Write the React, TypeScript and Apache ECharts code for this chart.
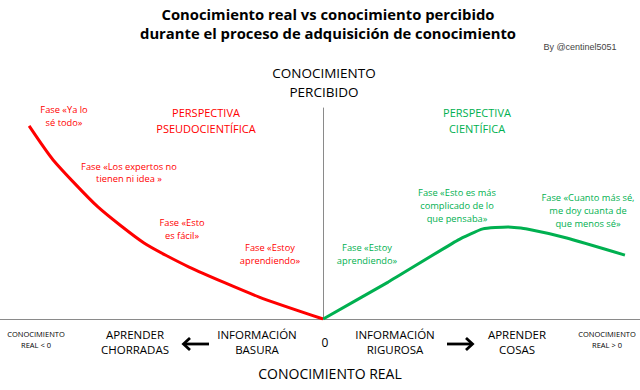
import React, { useEffect, useRef } from "react";
import * as echarts from "echarts";

// Conocimiento real (x) vs conocimiento percibido (y)
const redX = [-9.19, -8.44, -7.04, -5.6, -4.19, -2.0, 0];
const redY = [9.15, 7.54, 5.31, 3.6, 2.46, 1.04, 0];
const greenX = [0, 2.03, 4.21, 4.99, 5.77, 6.37, 7.61, 9.43];
const greenY = [0, 1.75, 3.74, 4.27, 4.36, 4.27, 3.84, 3.03];

const RED = "#ff0000";
const GREEN = "#00b050";
const FONT = "'Open Sans', 'Noto Sans', sans-serif";

type T = { text: string; x: number; y: number; size: number; color: string; weight?: string; lh?: number; family?: string };

const texts: T[] = [
  { text: "Conocimiento real vs conocimiento percibido", x: 328, y: 14, size: 14.8, color: "#000", weight: "bold" },
  { text: "durante el proceso de adquisición de conocimiento", x: 328, y: 33, size: 14.8, color: "#000", weight: "bold" },
  { text: "By @centinel5051", x: 580, y: 47, size: 9, color: "#444", family: "'Liberation Sans', Arial, sans-serif" },
  { text: "CONOCIMIENTO\nPERCIBIDO", x: 324, y: 82, size: 13.5, color: "#000", lh: 19 },
  { text: "PERSPECTIVA\nPSEUDOCIENTÍFICA", x: 206, y: 120, size: 11, color: RED, lh: 16 },
  { text: "PERSPECTIVA\nCIENTÍFICA", x: 477, y: 120, size: 11, color: GREEN, lh: 16 },
  { text: "Fase «Ya lo\nsé todo»", x: 64, y: 116, size: 9.3, color: RED, lh: 12.5 },
  { text: "Fase «Los expertos no\ntienen ni idea »", x: 129, y: 172.5, size: 9.3, color: RED, lh: 12.5 },
  { text: "Fase «Esto\nes fácil»", x: 182, y: 229, size: 9.3, color: RED, lh: 12.5 },
  { text: "Fase «Estoy\naprendiendo»", x: 270, y: 254, size: 9.3, color: RED, lh: 12.5 },
  { text: "Fase «Estoy\naprendiendo»", x: 367, y: 254, size: 9.3, color: GREEN, lh: 12.5 },
  { text: "Fase «Esto es más\ncomplicado de lo\nque pensaba»", x: 457, y: 205, size: 9.3, color: GREEN, lh: 13 },
  { text: "Fase «Cuanto más sé,\nme doy cuanta de\nque menos sé»", x: 588, y: 210, size: 9.3, color: GREEN, lh: 13 },
  { text: "CONOCIMIENTO\nREAL < 0", x: 36, y: 339, size: 7.5, color: "#000", lh: 11 },
  { text: "APRENDER\nCHORRADAS", x: 135, y: 342, size: 11.5, color: "#000", lh: 15 },
  { text: "INFORMACIÓN\nBASURA", x: 257, y: 342, size: 11.5, color: "#000", lh: 15 },
  { text: "0", x: 325, y: 342, size: 12, color: "#000" },
  { text: "INFORMACIÓN\nRIGUROSA", x: 395, y: 342, size: 11.5, color: "#000", lh: 15 },
  { text: "APRENDER\nCOSAS", x: 517, y: 342, size: 11.5, color: "#000", lh: 15 },
  { text: "CONOCIMIENTO\nREAL > 0", x: 607, y: 339, size: 7.5, color: "#000", lh: 11 },
  { text: "CONOCIMIENTO REAL", x: 330, y: 373, size: 14, color: "#000" },
];

export default function App() {
  const ref = useRef<HTMLDivElement>(null);
  useEffect(() => {
    if (!ref.current) return;
    const chart = echarts.init(ref.current, undefined, { renderer: "svg" });
    const graphic: any[] = texts.map((t) => ({
      type: "text",
      x: t.x,
      y: t.y,
      style: {
        text: t.text,
        fill: t.color,
        fontSize: t.size,
        fontFamily: t.family || FONT,
        fontWeight: t.weight || "normal",
        lineHeight: t.lh || t.size * 1.3,
        align: "center",
        verticalAlign: "middle",
        textAlign: "center",
        textVerticalAlign: "middle",
      },
    }));
    // arrows
    graphic.push(
      { type: "line", shape: { x1: 184, y1: 344, x2: 209, y2: 344 }, style: { stroke: "#000", lineWidth: 2.8 } },
      { type: "polyline", shape: { points: [[190, 338], [183.5, 344], [190, 350]] }, style: { stroke: "#000", lineWidth: 2.8, fill: null } },
      { type: "line", shape: { x1: 447, y1: 344, x2: 472, y2: 344 }, style: { stroke: "#000", lineWidth: 2.8 } },
      { type: "polyline", shape: { points: [[466, 338], [472.5, 344], [466, 350]] }, style: { stroke: "#000", lineWidth: 2.8, fill: null } }
    );
    chart.setOption({
      animation: false,
      backgroundColor: "#fff",
      grid: { left: 0, right: 0, top: 108, bottom: 71 },
      xAxis: {
        type: "value",
        min: -10.1,
        max: 9.9,
        axisLine: { show: true, onZero: true, lineStyle: { color: "#8a8a8a", width: 1 } },
        axisTick: { show: false },
        axisLabel: { show: false },
        splitLine: { show: false },
      },
      yAxis: {
        type: "value",
        min: 0,
        max: 10,
        axisLine: { show: true, onZero: true, lineStyle: { color: "#8a8a8a", width: 1 } },
        axisTick: { show: false },
        axisLabel: { show: false },
        splitLine: { show: false },
      },
      series: [
        {
          type: "line",
          data: redX.map((x, i) => [x, redY[i]]),
          showSymbol: false,
          smooth: 0.2,
          lineStyle: { color: RED, width: 3 },
          itemStyle: { color: RED },
        },
        {
          type: "line",
          data: greenX.map((x, i) => [x, greenY[i]]),
          showSymbol: false,
          smooth: 0.15,
          lineStyle: { color: GREEN, width: 3 },
          itemStyle: { color: GREEN },
        },
      ],
      graphic,
    });
    return () => chart.dispose();
  }, []);
  return (
    <div
      ref={ref}
      style={{ position: "fixed", left: 0, top: 0, width: 640, height: 390, background: "#fff" }}
    />
  );
}
